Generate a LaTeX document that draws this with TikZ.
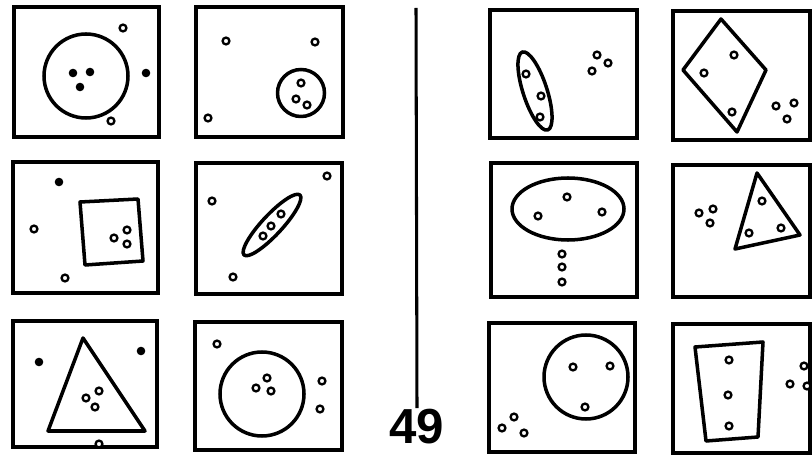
\documentclass[tikz,border=0pt]{standalone}
\usepackage{fontspec}
\setsansfont{Liberation Sans}
\usepackage{tikz}
\usetikzlibrary{calc}
\tikzset{
  box/.style={draw=black,line width=3pt},
  fig/.style={draw=black,line width=3pt,line join=round},
  ring/.style={draw=black,line width=2pt,fill=white},
  blob/.style={fill=black}
}
\begin{document}
\begin{tikzpicture}[x=0.03cm,y=-0.03cm]
\useasboundingbox (0,0) rectangle (812,455);
% left side
\draw[box] (14,7) rectangle (159,137);
\draw[fig] (86,76) circle (42);
\foreach \p in {(73,73),(90,72),(80,87),(146,73)} \fill[blob] \p circle (4.3);
\foreach \p in {(123,28),(111,121)} \draw[ring] \p circle (3.4);
\draw[box] (196,7) rectangle (343,137);
\draw[fig] (301,93) circle (23.5);
\foreach \p in {(226,41),(315,42),(208,118),(301,83),(296,99),(307,105)} \draw[ring] \p circle (3.4);
\draw[box] (13,162) rectangle (158,293);
\draw[fig] (80,202) -- (138,199) -- (143,261) -- (85,265) -- cycle;
\fill[blob] (59,182) circle (4.3);
\foreach \p in {(34,229),(65,278),(114,238),(127,230),(127,244)} \draw[ring] \p circle (3.4);
\draw[box] (196,163) rectangle (342,294);
\draw[fig,rotate around={47:(272,225)}] (272,225) ellipse (41 and 10);
\foreach \p in {(263,236),(271,226),(281,214),(212,201),(327,176),(233,277)} \draw[ring] \p circle (3.4);
\draw[box] (13,321) rectangle (157,447);
\draw[fig] (83,338) -- (145,431) -- (48,431) -- cycle;
\foreach \p in {(39,362),(141,351)} \fill[blob] \p circle (4.3);
\foreach \p in {(86,398),(99,391),(95,407),(99,444)} \draw[ring] \p circle (3.4);
\draw[box] (195,322) rectangle (342,450);
\draw[fig] (262,394) circle (42);
\foreach \p in {(217,344),(267,378),(256,388),(271,391),(322,381),(320,409)} \draw[ring] \p circle (3.4);
% divider and number
\node[font=\sffamily\bfseries\fontsize{42}{42}\selectfont,inner sep=1pt] (num) at (417,427) {49};
\coordinate (divtop) at (416,8);
\draw[line width=2.6pt] (divtop) -- (num.north);
% right side
\draw[box] (490,10) rectangle (637,138);
\draw[fig,rotate around={108:(535,91)}] (535,91) ellipse (41 and 12);
\foreach \p in {(526,74),(541,96),(540,117),(597,55),(608,63),(592,71)} \draw[ring] \p circle (3.4);
\draw[box] (673,11) rectangle (810,140);
\draw[fig] (721,19) -- (766,70) -- (737,132) -- (683,70) -- cycle;
\foreach \p in {(734,55),(704,73),(732,112),(776,106),(794,103),(787,119)} \draw[ring] \p circle (3.4);
\draw[box] (491,163) rectangle (637,297);
\draw[fig] (568,209) ellipse (56 and 31);
\foreach \p in {(567,197),(538,216),(602,212),(562,254),(562,267),(562,282)} \draw[ring] \p circle (3.4);
\draw[box] (673,165) rectangle (810,297);
\draw[fig] (757,173) -- (800,235) -- (735,249) -- cycle;
\foreach \p in {(762,201),(749,233),(781,228),(699,213),(713,209),(710,223)} \draw[ring] \p circle (3.4);
\draw[box] (489,323) rectangle (635,452);
\draw[fig] (586,377) circle (42);
\foreach \p in {(573,367),(610,366),(585,407),(514,417),(502,428),(524,433)} \draw[ring] \p circle (3.4);
\draw[box] (673,324) rectangle (810,453);
\draw[fig] (695,347) -- (763,342) -- (758,437) -- (706,441) -- cycle;
\foreach \p in {(729,360),(728,395),(729,426),(804,366),(790,384),(807,386)} \draw[ring] \p circle (3.4);
\end{tikzpicture}
\end{document}
